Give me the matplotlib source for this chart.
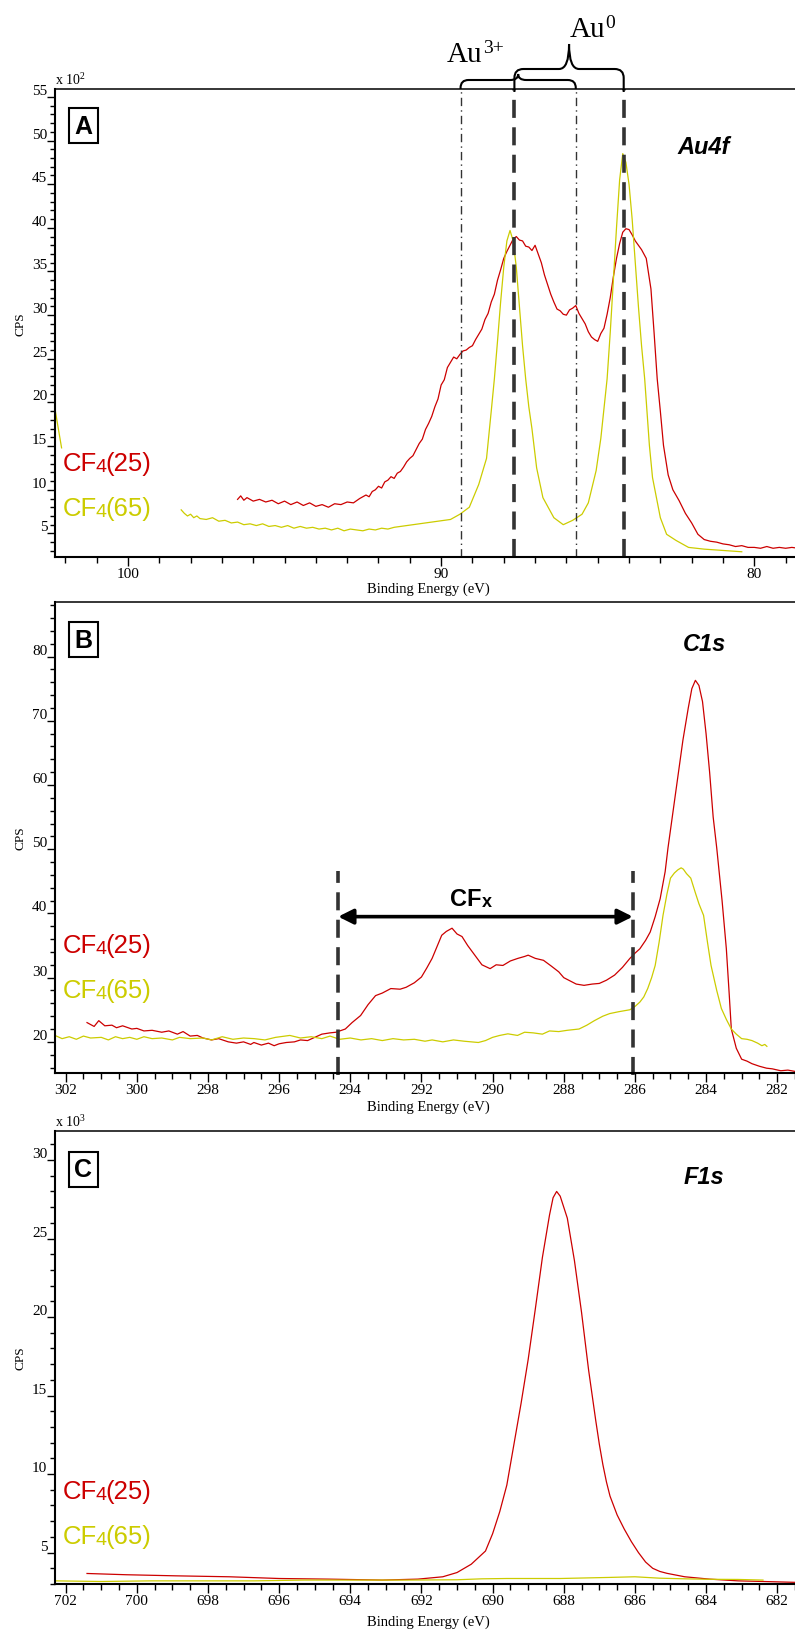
import numpy as np
import matplotlib
matplotlib.use("Agg")
import matplotlib.pyplot as plt
from matplotlib.ticker import MultipleLocator
from matplotlib.path import Path
from matplotlib.patches import PathPatch
from matplotlib.transforms import IdentityTransform

plt.rcParams['font.family'] = ['Liberation Serif', 'DejaVu Serif']
plt.rcParams['mathtext.fontset'] = 'custom'
plt.rcParams['mathtext.rm'] = 'Liberation Serif'

RED = '#cc0000'
YEL = '#cccc00'
DARK = '#333333'

# ---- Au4f (CPS x 10^2) ----
au_red_ev = [96.5, 96.4, 96.3, 96.2, 96.0, 95.8, 95.6, 95.4, 95.2, 95.0, 94.8, 94.6, 94.4, 94.2, 94.0,
             93.8, 93.6, 93.4, 93.2, 93.0, 92.8, 92.6, 92.4, 92.3, 92.2, 92.1, 92.0, 91.9, 91.8, 91.7,
             91.6, 91.5, 91.4, 91.3, 91.2, 91.1, 91.0, 90.9, 90.8, 90.7, 90.6, 90.5, 90.4, 90.3, 90.2,
             90.1, 90.0, 89.9, 89.8, 89.7, 89.6, 89.5, 89.4, 89.3, 89.2, 89.1, 89.0, 88.9, 88.8, 88.7,
             88.6, 88.5, 88.4, 88.3, 88.2, 88.1, 88.0, 87.9, 87.8, 87.7, 87.6, 87.5, 87.4, 87.3, 87.2,
             87.1, 87.0, 86.9, 86.8, 86.7, 86.6, 86.5, 86.4, 86.3, 86.2, 86.1, 86.0, 85.9, 85.8, 85.7,
             85.6, 85.5, 85.4, 85.3, 85.2, 85.1, 85.0, 84.9, 84.8, 84.7, 84.6, 84.5, 84.4, 84.3, 84.2,
             84.1, 84.0, 83.9, 83.8, 83.7, 83.6, 83.45, 83.3, 83.2, 83.1, 83.0, 82.9, 82.75, 82.6, 82.4,
             82.2, 82.0, 81.8, 81.6, 81.4, 81.2, 81.0, 80.8, 80.6, 80.4, 80.2, 80.0, 79.8, 79.6, 79.4,
             79.2, 79.0, 78.8, 78.6]
au_red_cps = [8.9, 9.3, 8.8, 9.1, 8.7, 8.9, 8.6, 8.8, 8.4, 8.7, 8.3, 8.6, 8.2, 8.5, 8.1,
              8.3, 8.0, 8.4, 8.3, 8.6, 8.5, 9.0, 9.4, 9.2, 9.8, 10.0, 10.4, 10.2, 10.9, 11.1,
              11.5, 11.3, 11.9, 12.1, 12.6, 13.2, 13.6, 13.9, 14.6, 15.3, 15.8, 16.9, 17.6, 18.4, 19.5,
              20.4, 22.0, 22.6, 24.0, 24.6, 25.2, 25.0, 25.5, 25.9, 26.0, 26.3, 26.5, 27.2, 27.8, 28.4,
              29.5, 30.2, 31.5, 32.4, 34.0, 35.2, 36.5, 37.3, 38.0, 38.7, 39.0, 38.6, 38.5, 37.9, 37.8,
              37.4, 38.0, 37.0, 36.0, 34.6, 33.5, 32.4, 31.5, 30.7, 30.5, 30.1, 30.0, 30.6, 30.8, 31.1,
              30.2, 29.6, 29.0, 28.1, 27.5, 27.2, 27.0, 27.9, 28.5, 30.1, 32.0, 34.4, 36.5, 38.2, 39.5,
              39.9, 39.8, 39.2, 38.5, 38.0, 37.5, 36.5, 33.0, 28.0, 22.7, 19.0, 15.1, 11.7, 10.0, 8.75,
              7.3, 6.2, 4.9, 4.3, 4.1, 4.0, 3.8, 3.7, 3.5, 3.6, 3.4, 3.4, 3.3, 3.5, 3.3,
              3.4, 3.3, 3.4, 3.3]
au_yel_ev = [102.45, 102.12, np.nan,
             98.3, 98.2, 98.1, 98.0, 97.9, 97.8, 97.7, 97.5, 97.3, 97.1, 96.9, 96.7, 96.5, 96.3, 96.1,
             95.9, 95.7, 95.5, 95.3, 95.1, 94.9, 94.7, 94.5, 94.3, 94.1, 93.9, 93.7, 93.5, 93.3, 93.1,
             92.9, 92.7, 92.5, 92.3, 92.1, 91.9, 91.7, 91.5, 91.3, 91.1, 90.9, 90.7, 90.5, 90.3, 90.1,
             89.9, 89.7, 89.4, 89.1, 88.8, 88.55, 88.4, 88.3, 88.2, 88.1, 88.0, 87.9, 87.8, 87.7, 87.6,
             87.5, 87.4, 87.3, 87.2, 87.1, 86.95, 86.75, 86.4, 86.1, 85.8, 85.5, 85.3, 85.05, 84.9, 84.7,
             84.6, 84.5, 84.4, 84.3, 84.2, 84.1, 84.0, 83.9, 83.8, 83.7, 83.6, 83.5, 83.35, 83.25, 83.0,
             82.8, 82.5, 82.1, 81.6, 81.2, 80.8, 80.4]
au_yel_cps = [21.8, 14.8, np.nan,
              7.7, 7.3, 7.0, 7.2, 6.8, 7.0, 6.7, 6.6, 6.8, 6.4, 6.5, 6.2, 6.3, 6.0, 6.1,
              5.9, 6.1, 5.8, 5.9, 5.7, 5.9, 5.6, 5.8, 5.6, 5.7, 5.5, 5.6, 5.4, 5.6, 5.3,
              5.5, 5.4, 5.3, 5.5, 5.4, 5.6, 5.5, 5.7, 5.8, 5.9, 6.0, 6.1, 6.2, 6.3, 6.4,
              6.5, 6.6, 7.2, 8.0, 10.6, 13.6, 19.0, 22.7, 27.0, 31.5, 35.5, 38.5, 39.7, 38.5, 35.5,
              31.0, 26.5, 22.7, 19.5, 17.0, 12.5, 9.1, 6.8, 6.0, 6.5, 7.2, 8.5, 12.2, 15.9, 22.7,
              28.0, 34.0, 40.0, 45.5, 48.5, 47.5, 45.0, 41.0, 36.0, 31.0, 26.5, 22.7, 15.1, 11.4, 6.8,
              4.9, 4.2, 3.4, 3.2, 3.1, 3.0, 2.9]
au3_lines = [89.38, 85.7]
au0_lines = [87.66, 84.17]

# ---- C1s (CPS x 10^2) ----
c_red_ev = [301.4, 301.2, 301.07, 300.9, 300.7, 300.57, 300.4, 300.14, 300.0, 299.8, 299.57, 299.3,
            299.1, 298.86, 298.7, 298.5, 298.3, 298.14, 297.9, 297.7, 297.43, 297.2, 297.0, 296.8,
            296.71, 296.5, 296.3, 296.14, 296.0, 295.8, 295.57, 295.4, 295.2, 295.0, 294.8, 294.57,
            294.4, 294.14, 293.95, 293.71, 293.5, 293.29, 293.1, 292.86, 292.6, 292.43, 292.2, 292.0,
            291.85, 291.7, 291.55, 291.43, 291.3, 291.14, 291.0, 290.86, 290.7, 290.5, 290.3, 290.07,
            289.9, 289.71, 289.5, 289.29, 289.1, 289.0, 288.8, 288.57, 288.35, 288.14, 288.0, 287.86,
            287.65, 287.43, 287.2, 287.0, 286.8, 286.57, 286.35, 286.14, 286.0, 285.86, 285.7, 285.57,
            285.43, 285.29, 285.15, 285.07, 284.95, 284.8, 284.65, 284.5, 284.4, 284.3, 284.2, 284.1,
            284.0, 283.9, 283.8, 283.7, 283.55, 283.43, 283.35, 283.29, 283.15, 283.0, 282.85, 282.71,
            282.5, 282.3, 282.14, 281.9, 281.7, 281.5]
c_red_cps = [23.0, 22.4, 23.3, 22.5, 22.6, 22.2, 22.5, 22.0, 22.1, 21.7, 21.8, 21.5,
             21.7, 21.2, 21.6, 20.9, 21.0, 20.6, 20.3, 20.5, 20.0, 19.8, 20.0, 19.6,
             19.9, 19.5, 19.8, 19.4, 19.7, 19.9, 20.0, 20.3, 20.2, 20.7, 21.2, 21.4,
             21.5, 22.0, 23.0, 24.1, 25.8, 27.2, 27.6, 28.3, 28.2, 28.5, 29.2, 30.1,
             31.5, 33.0, 35.0, 36.6, 37.2, 37.7, 36.8, 36.4, 35.0, 33.5, 32.0, 31.4,
             32.0, 31.9, 32.6, 33.0, 33.3, 33.5, 33.0, 32.7, 31.8, 30.9, 30.0, 29.6,
             29.0, 28.8, 29.0, 29.1, 29.6, 30.4, 31.6, 33.0, 33.8, 34.5, 35.8, 37.1,
             39.5, 42.3, 46.5, 50.2, 55.0, 61.0, 67.0, 72.0, 75.0, 76.3, 75.5, 73.0,
             68.0, 62.0, 55.0, 50.2, 42.0, 34.5, 27.5, 22.0, 19.0, 17.3, 17.0, 16.6,
             16.2, 15.9, 15.8, 15.5, 15.6, 15.4]
c_yel_ev = [302.3, 302.1, 301.9, 301.7, 301.5, 301.3, 301.0, 300.8, 300.6, 300.4, 300.2, 300.0,
            299.8, 299.57, 299.3, 299.0, 298.8, 298.5, 298.14, 297.9, 297.6, 297.3, 297.0, 296.7,
            296.4, 296.1, 295.7, 295.4, 295.1, 294.8, 294.57, 294.3, 294.0, 293.7, 293.4, 293.1,
            292.8, 292.5, 292.2, 291.9, 291.7, 291.4, 291.1, 290.8, 290.6, 290.4, 290.2, 290.0,
            289.8, 289.57, 289.3, 289.1, 288.86, 288.6, 288.4, 288.14, 287.9, 287.57, 287.35, 287.14,
            286.9, 286.71, 286.45, 286.14, 286.0, 285.86, 285.75, 285.64, 285.53, 285.43, 285.32, 285.21,
            285.1, 285.0, 284.89, 284.79, 284.7, 284.64, 284.55, 284.43, 284.3, 284.2, 284.07, 283.96,
            283.86, 283.7, 283.57, 283.43, 283.29, 283.15, 283.0, 282.85, 282.71, 282.55, 282.43, 282.35,
            282.29]
c_yel_cps = [21.0, 20.5, 20.8, 20.4, 20.9, 20.6, 20.7, 20.3, 20.8, 20.5, 20.7, 20.4,
             20.8, 20.5, 20.6, 20.3, 20.7, 20.5, 20.6, 20.3, 20.8, 20.4, 20.6, 20.5,
             20.3, 20.7, 21.0, 20.6, 20.8, 20.5, 20.9, 20.4, 20.6, 20.3, 20.5, 20.2,
             20.5, 20.3, 20.4, 20.1, 20.3, 20.0, 20.3, 20.1, 20.0, 19.9, 20.2, 20.7,
             21.0, 21.25, 21.0, 21.5, 21.4, 21.2, 21.7, 21.6, 21.8, 22.0, 22.6, 23.3,
             24.0, 24.4, 24.7, 25.0, 25.5, 26.2, 27.0, 28.3, 30.0, 31.9, 35.5, 39.7,
             43.0, 45.5, 46.3, 46.8, 47.1, 46.9, 46.2, 45.5, 43.2, 41.5, 39.7, 35.5,
             31.9, 28.0, 25.2, 23.5, 22.0, 21.2, 20.5, 20.4, 20.2, 19.8, 19.4, 19.6,
             19.3]
cfx_lines = [294.34, 286.06]

# ---- F1s (CPS x 10^3) ----
f_red_ev = [701.4, 700.3, 698.9, 697.4, 696.0, 694.6, 693.1, 692.1, 691.4, 691.0, 690.6, 690.2,
            690.0, 689.8, 689.6, 689.4, 689.2, 689.0, 688.8, 688.6, 688.4, 688.3, 688.2, 688.1,
            687.9, 687.7, 687.5, 687.3, 687.2, 687.1, 687.0, 686.9, 686.8, 686.7, 686.5, 686.3,
            686.1, 685.9, 685.7, 685.5, 685.3, 685.1, 684.6, 683.9, 683.1, 682.4, 681.4]
f_red_cps = [3.67, 3.59, 3.52, 3.46, 3.35, 3.31, 3.25, 3.31, 3.46, 3.73, 4.26, 5.1,
             6.2, 7.6, 9.3, 11.9, 14.5, 17.3, 20.5, 23.8, 26.5, 27.6, 28.0, 27.7,
             26.3, 23.6, 20.3, 16.6, 15.0, 13.4, 11.9, 10.6, 9.5, 8.6, 7.4, 6.5,
             5.7, 5.0, 4.4, 4.0, 3.8, 3.68, 3.46, 3.31, 3.2, 3.16, 3.1]
f_yel_ev = [702.3, 701.0, 699.6, 698.1, 696.7, 695.3, 693.9, 692.4, 691.0, 690.3, 689.6, 688.1,
            686.7, 686.0, 685.3, 684.6, 683.9, 683.1, 682.4]
f_yel_cps = [3.2, 3.16, 3.2, 3.2, 3.2, 3.25, 3.25, 3.25, 3.27, 3.33, 3.35, 3.35,
             3.42, 3.46, 3.37, 3.33, 3.3, 3.29, 3.25]

W, H = 795, 1631
fig = plt.figure(figsize=(W / 100, H / 100), dpi=100)


def panel(top, bottom, xlim, ylim, xmaj, xmin, ymaj, ymin, xlab_top):
    ax = fig.add_axes([55 / W, 1 - bottom / H, 1 - 55 / W, (bottom - top) / H])
    ax.set_xlim(*xlim)
    ax.set_ylim(*ylim)
    ax.xaxis.set_major_locator(MultipleLocator(xmaj))
    ax.xaxis.set_minor_locator(MultipleLocator(xmin))
    ax.yaxis.set_major_locator(MultipleLocator(ymaj))
    ax.yaxis.set_minor_locator(MultipleLocator(ymin))
    ax.spines['right'].set_visible(False)
    ax.spines['left'].set_linewidth(1.5)
    ax.spines['bottom'].set_linewidth(1.5)
    ax.spines['top'].set_linewidth(1.1)
    ax.tick_params(axis='x', which='major', direction='out', length=6.5, width=1, labelsize=11, pad=1)
    ax.tick_params(axis='x', which='minor', direction='out', length=4, width=1)
    ax.tick_params(axis='y', which='major', direction='out', length=5.5, width=1, labelsize=11, pad=0)
    ax.tick_params(axis='y', which='minor', direction='out', length=3.5, width=1)
    for lab in ax.get_yticklabels():
        lab.set_va('bottom')
    ax.set_xlabel('Binding Energy (eV)', fontsize=10.5, va='top')
    ax.xaxis.set_label_coords(0.504, -xlab_top / (bottom - top))
    ax.set_ylabel('CPS', fontsize=9.5)
    ax.yaxis.set_label_coords(-28 / 740, 0.5)
    return ax


def legend(ax, yc, num, color):
    t1 = ax.text(0.011, yc, 'CF', fontsize=18.5, color=color, va='center',
                 family='Liberation Sans', transform=ax.transAxes)
    t2 = ax.annotate('4', xy=(1, 0), xycoords=t1, xytext=(-1.2, 0), textcoords='offset points',
                     va='bottom', fontsize=14, color=color, family='Liberation Sans')
    ax.annotate('(%s)' % num, xy=(1, 0), xycoords=t2, xytext=(-0.8, 0), textcoords='offset points',
                va='bottom', fontsize=18.5, color=color, family='Liberation Sans')


def tag(ax, letter, y, name, y2):
    ax.text(0.0385, y, letter, transform=ax.transAxes, ha='center', va='center',
            fontsize=18, fontweight='bold', family='Liberation Sans',
            bbox=dict(boxstyle='square,pad=0.22', fc='white', ec='black', lw=1.5))
    ax.text(0.877, y2, name, transform=ax.transAxes, ha='center', va='center',
            fontsize=17, fontweight='bold', fontstyle='italic', family='Liberation Sans')


def brace(ax, x0, x1, base, bar, tip, r, w):
    # curly brace above the axes, pixel offsets from the top spine
    top = ax.transAxes.transform((0, 1))[1]
    p0 = ax.transData.transform((x0, 0))[0]
    p1 = ax.transData.transform((x1, 0))[0]
    lo, hi = min(p0, p1), max(p0, p1)
    xm = (lo + hi) / 2
    yb, yh, yt = top + base, top + bar, top + tip
    verts = [(lo, yb), (lo, yh - r), (lo, yh), (lo + r, yh), (xm - w, yh), (xm, yh), (xm, yt),
             (xm, yh), (xm + w, yh), (hi - r, yh), (hi, yh), (hi, yh - r), (hi, yb)]
    codes = [Path.MOVETO, Path.LINETO, Path.CURVE3, Path.CURVE3, Path.LINETO, Path.CURVE3, Path.CURVE3,
             Path.CURVE3, Path.CURVE3, Path.LINETO, Path.CURVE3, Path.CURVE3, Path.LINETO]
    fig.add_artist(PathPatch(Path(verts, codes), fill=False, lw=1.5, ec='black',
                             transform=IdentityTransform()))
    return xm


# Panel A
axA = panel(90, 558, (102.33, 78.7), (2.3, 55.9), 10, 1, 5, 1, 25)
axA.plot(au_red_ev, au_red_cps, color=RED, lw=0.9)
axA.plot(au_yel_ev, au_yel_cps, color=YEL, lw=0.9)
for x in au3_lines:
    axA.plot([x, x], [2.3, 55.9], color=DARK, lw=1.0, ls=(0, (6, 3, 1, 3)))
for x in au0_lines:
    axA.plot([x, x], [2.3, 55.9], color=DARK, lw=2.6, ls=(0, (5, 2.6)))
legend(axA, 0.2, '25', RED)
legend(axA, 0.105, '65', YEL)
tag(axA, 'A', 0.922, 'Au4f', 0.877)
axA.text(0.0, 1.004, r'x 10$^{\mathregular{2}}$', transform=axA.transAxes, fontsize=10, va='bottom')

# Panel B
axB = panel(603, 1074, (302.3, 281.5), (15.15, 88.5), 2, 0.5, 10, 2, 27)
axB.plot(c_red_ev, c_red_cps, color=RED, lw=0.9)
axB.plot(c_yel_ev, c_yel_cps, color=YEL, lw=0.9)
for x in cfx_lines:
    axB.plot([x, x], [14.8, 46.6], color=DARK, lw=2.6, ls=(0, (5, 2.6)), clip_on=False)
axB.annotate('', xy=(cfx_lines[1], 39.5), xytext=(cfx_lines[0], 39.5),
             arrowprops=dict(arrowstyle='<|-|>,head_length=0.9,head_width=0.45', lw=2.6, color='black',
                             shrinkA=0, shrinkB=0))
t1 = axB.text(290.75, 42.3, 'CF', fontsize=17, fontweight='bold', family='Liberation Sans',
              ha='center', va='center')
axB.annotate('x', xy=(1, 0), xycoords=t1, va='bottom', fontsize=13, fontweight='bold',
             family='Liberation Sans')
legend(axB, 0.272, '25', RED)
legend(axB, 0.176, '65', YEL)
tag(axB, 'B', 0.920, 'C1s', 0.911)

# Panel C
axC = panel(1132, 1585, (702.3, 681.5), (3.0, 31.85), 2, 0.5, 5, 1, 31)
axC.plot(f_red_ev, f_red_cps, color=RED, lw=0.9)
axC.plot(f_yel_ev, f_yel_cps, color=YEL, lw=0.9)
legend(axC, 0.205, '25', RED)
legend(axC, 0.106, '65', YEL)
tag(axC, 'C', 0.916, 'F1s', 0.90)
axC.text(0.0, 1.004, r'x 10$^{\mathregular{3}}$', transform=axC.transAxes, fontsize=10, va='bottom')

# braces over the Au4f panel
xm_low = brace(axA, au3_lines[0], au3_lines[1], 0, 9, 15, 8, 8)
xm_up = brace(axA, au0_lines[0], au0_lines[1], -3, 20, 45, 9, 10)
top_px = axA.transAxes.transform((0, 1))[1]

au3 = fig.text(xm_low - 71, top_px + 28, 'Au', transform=IdentityTransform(),
               fontsize=21, ha='left', va='baseline')
axA.annotate('3+', xy=(1, 0.42), xycoords=au3, fontsize=14, ha='left', va='bottom',
             annotation_clip=False)
au0 = fig.text(xm_up + 1, top_px + 53, 'Au', transform=IdentityTransform(),
               fontsize=21, ha='left', va='baseline')
axA.annotate('0', xy=(1, 0.42), xycoords=au0, fontsize=14, ha='left', va='bottom',
             annotation_clip=False)

fig.savefig('out.png', dpi=100)
